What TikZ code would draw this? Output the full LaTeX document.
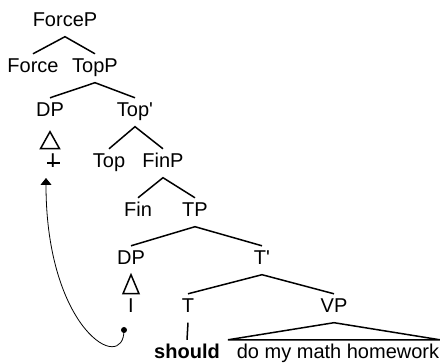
\documentclass[tikz,border=0pt]{standalone}
\usepackage{fontspec}
\setmainfont{Liberation Sans}
\usepackage{tikz}
\usetikzlibrary{positioning, arrows.meta}

\begin{document}
\begin{tikzpicture}[
    x=1pt, y=-1pt,
    cat/.style={anchor=base, inner xsep=1pt, inner ysep=4.5pt, text height=14.5pt, text depth=5pt, font=\fontsize{20}{22}\selectfont},
    branch/.style={line width=1.5pt},
    move/.style={line width=0.8pt, -{Triangle[length=7pt,width=11pt]}},
]
\useasboundingbox (0,0) rectangle (440,363);

\node[cat] (forcep) at (65, 27) {ForceP};
\node[cat] (force) at (33, 73) {Force};
\node[cat] (topp) at (95, 73) {TopP};
\node[cat] (dpa) at (50, 117) {DP};
\node[cat] (topbar) at (135, 117) {Top\textquotesingle};
\node[cat] (cross) at (53, 168) {I};
\node[cat] (top) at (109, 168) {Top};
\node[cat] (finp) at (163, 168) {FinP};
\node[cat] (fin) at (138, 217) {Fin};
\node[cat] (tp) at (195, 217) {TP};
\node[cat] (dpb) at (131, 265) {DP};
\node[cat] (tbar) at (262, 265) {T\textquotesingle};
\node[cat] (pron) at (131, 313) {I};
\node[cat] (t) at (188, 313) {T};
\node[cat] (vp) at (334, 313) {VP};
\node[cat, font=\fontsize{20}{22}\selectfont\bfseries] (should) at (187, 359) {should};
\node[cat] (hw) at (338, 359) {do my math homework};

\draw[branch] (force.north) -- (forcep.south) -- (topp.north);
\draw[branch] (dpa.north) -- (topp.south) -- (topbar.north);
\draw[branch] (top.north) -- (topbar.south) -- (finp.north);
\draw[branch] (fin.north) -- (finp.south) -- (tp.north);
\draw[branch] (dpb.north) -- (tp.south) -- (tbar.north);
\draw[branch] (t.north) -- (tbar.south) -- (vp.north);
\draw[branch] (t.south) -- (should.north);

% triangles
\draw[branch] ([yshift=-5pt]dpa.south) -- ++(-9.5,17) -- ++(19,0) -- cycle;
\draw[branch] (dpb.south) -- ++(-8,19) -- ++(16,0) -- cycle;
\draw[branch] (vp.south) -- ([xshift=-110pt]hw.north) -- ([xshift=102pt]hw.north) -- cycle;
\draw[line width=1.2pt] ([shift={(-6pt,5pt)}]cross.base) -- ([shift={(7pt,5pt)}]cross.base);

% movement
\coordinate (src) at (124, 330);
\coordinate (dst) at (46, 178);
\fill (src) circle (3pt);
\draw[move] (src) .. controls (124, 375) and (46, 330) .. (dst);
\end{tikzpicture}
\end{document}
